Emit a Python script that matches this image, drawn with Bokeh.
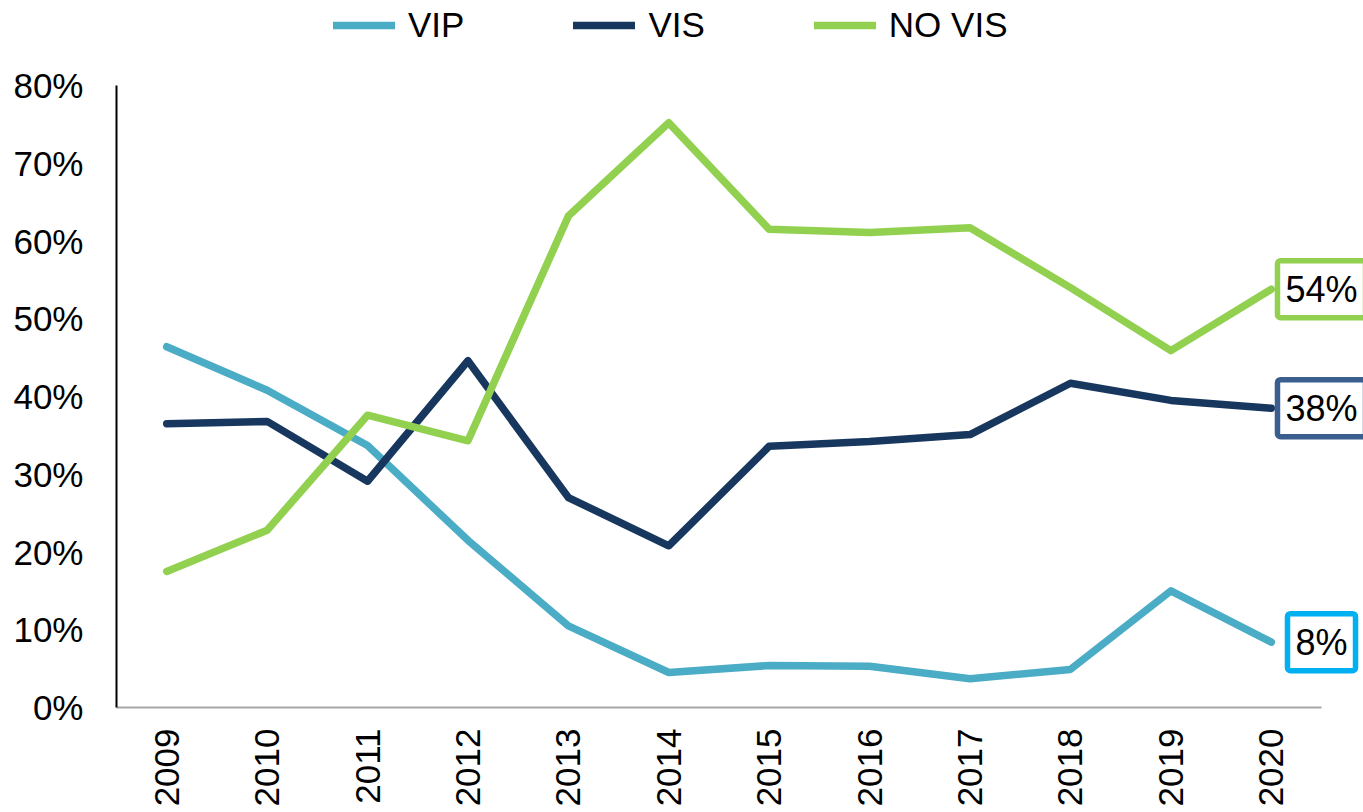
from bokeh.plotting import figure
from bokeh.models import ColumnDataSource, Legend, LegendItem, Label, NumeralTickFormatter, FixedTicker
from bokeh.embed import file_html
from bokeh.resources import INLINE

years = [2009, 2010, 2011, 2012, 2013, 2014, 2015, 2016, 2017, 2018, 2019, 2020]
vip = [46.4, 40.8, 33.7, 21.5, 10.5, 4.5, 5.4, 5.3, 3.7, 4.9, 15.0, 8.4]
vis = [36.5, 36.8, 29.1, 44.6, 27.0, 20.8, 33.6, 34.2, 35.1, 41.7, 39.5, 38.5]
novis = [17.5, 22.8, 37.6, 34.3, 63.2, 75.2, 61.5, 61.1, 61.7, 54.0, 45.9, 53.8]
series_names = ["VIP", "VIS", "NO VIS"]
y_ticks = [0, 0.1, 0.2, 0.3, 0.4, 0.5, 0.6, 0.7, 0.8]

colors = ["#4bacc6", "#17375e", "#92d050"]
box_colors = ["#00b0f0", "#3a5f8f", "#92d050"]
FONT = "Liberation Sans"

W, H = 1363, 812
LEFT, BOTTOM = 116, 105
# data frame spans years 2008.5..2020.5 over 1205 px, 0..0.8 over 622 px; extra room for legend / labels
x_end = 2008.5 + (W - LEFT) * 12 / 1205
y_end = (H - BOTTOM) * 0.8 / 622

p = figure(width=W, height=H, output_backend="svg", toolbar_location=None,
           x_range=(2008.5, x_end), y_range=(0, y_end),
           min_border_left=LEFT, min_border_right=0, min_border_top=0, min_border_bottom=BOTTOM)
p.outline_line_color = None
p.xgrid.visible = False
p.ygrid.visible = False
p.background_fill_color = "white"

src = ColumnDataSource(dict(x=years,
                            vip=[v / 100 for v in vip],
                            vis=[v / 100 for v in vis],
                            novis=[v / 100 for v in novis]))
items = []
for key, name, c in zip(["vip", "vis", "novis"], series_names, colors):
    r = p.line("x", key, source=src, line_color=c, line_width=7.5, line_cap="round", line_join="round")
    items.append(LegendItem(label=name, renderers=[r]))

# end labels
for vals, c in zip([vip, vis, novis], box_colors):
    v = vals[-1]
    lab = Label(x=years[-1] + 0.5, y=v / 100, text=f"{round(v)}%", text_align="center", text_baseline="middle",
                text_font=FONT, text_font_size="36px", text_color="black",
                background_fill_color="white", border_line_color=c, border_line_width=5.5,
                border_radius=3, padding=8)
    p.add_layout(lab)

# axes
p.yaxis.ticker = FixedTicker(ticks=y_ticks)
p.yaxis.bounds = (0, 0.8)
p.yaxis.formatter = NumeralTickFormatter(format="0%")
p.yaxis.major_tick_line_color = None
p.yaxis.minor_tick_line_color = None
p.yaxis.axis_line_color = "black"
p.yaxis.axis_line_width = 2
p.yaxis.major_label_text_font = FONT
p.yaxis.major_label_text_font_size = "35px"
p.yaxis.major_label_text_color = "black"
p.yaxis.major_label_standoff = 27

p.xaxis.ticker = FixedTicker(ticks=years)
p.xaxis.bounds = (2008.5, 2020.5)
p.xaxis.major_tick_line_color = None
p.xaxis.minor_tick_line_color = None
p.xaxis.axis_line_color = "#a6a6a6"
p.xaxis.axis_line_width = 2
p.xaxis.major_label_orientation = 1.5707963
p.xaxis.major_label_text_font = FONT
p.xaxis.major_label_text_font_size = "35px"
p.xaxis.major_label_text_color = "black"
p.xaxis.major_label_standoff = 15

legend = Legend(items=items, orientation="horizontal", location=(217, 662),
                label_text_font=FONT, label_text_font_size="35px", label_text_color="black",
                glyph_width=62, glyph_height=30, label_standoff=13, spacing=109,
                padding=0, margin=0, border_line_color=None, background_fill_alpha=0)
p.add_layout(legend)

open("out.html", "w").write(file_html(p, INLINE))
